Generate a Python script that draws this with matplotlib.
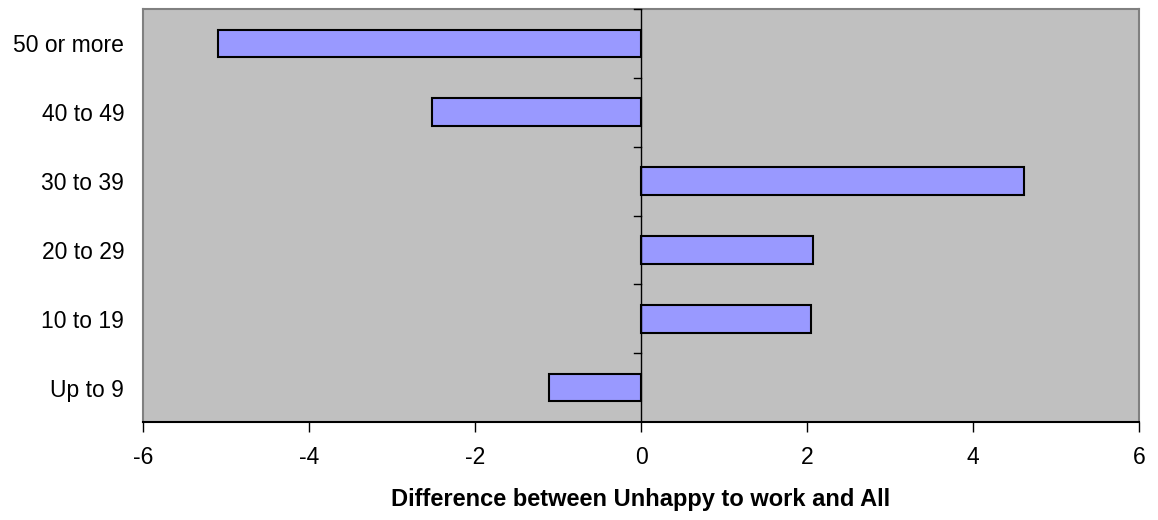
import matplotlib
matplotlib.use("Agg")
import matplotlib.pyplot as plt
from matplotlib.transforms import blended_transform_factory

plt.rcParams['font.family'] = ['Liberation Sans', 'DejaVu Sans']

categories = ["Up to 9", "10 to 19", "20 to 29", "30 to 39", "40 to 49", "50 or more"]
values = [-1.11, 2.05, 2.07, 4.61, -2.52, -5.10]
xticks = [-6, -4, -2, 0, 2, 4, 6]
xlabel = "Difference between Unhappy to work and All"

fig = plt.figure(figsize=(11.58, 5.2), dpi=100)
ax = fig.add_axes([143/1158, 1-422/520, (1139-143)/1158, (422-9)/520])
ax.set_facecolor('#C0C0C0')

pos = list(range(len(categories)))
ax.barh(pos, values, height=0.4, color='#9999FF', edgecolor='black', linewidth=1.5, zorder=3)

ax.set_xlim(-6, 6)
ax.set_ylim(-0.5, len(categories) - 0.5)
ax.set_xticks(xticks)
ax.set_xticklabels([str(t) for t in xticks], fontsize=16.5)
ax.tick_params(axis='x', direction='out', length=7, width=1, color='black', pad=10)
ax.set_yticks(pos)
ax.set_yticklabels(categories, fontsize=16.5)
ax.tick_params(axis='y', length=0, pad=13.5)

for side in ['left', 'top', 'right']:
    ax.spines[side].set_color('#808080')
    ax.spines[side].set_linewidth(1.5)
ax.spines['bottom'].set_color('black')
ax.spines['bottom'].set_linewidth(1.5)

ax.axvline(0, color='black', linewidth=1, zorder=4)
trans = blended_transform_factory(ax.transAxes, ax.transData)
x0 = 0.5
for b in [i + 0.5 for i in range(len(categories) - 1)] + [len(categories) - 0.5]:
    ax.plot([x0 - 7/996, x0], [b, b], color='black', linewidth=1, transform=trans, clip_on=False, zorder=4)

ax.set_xlabel(xlabel, fontsize=17, fontweight='bold', labelpad=14)

fig.savefig("out.png", dpi=100)
